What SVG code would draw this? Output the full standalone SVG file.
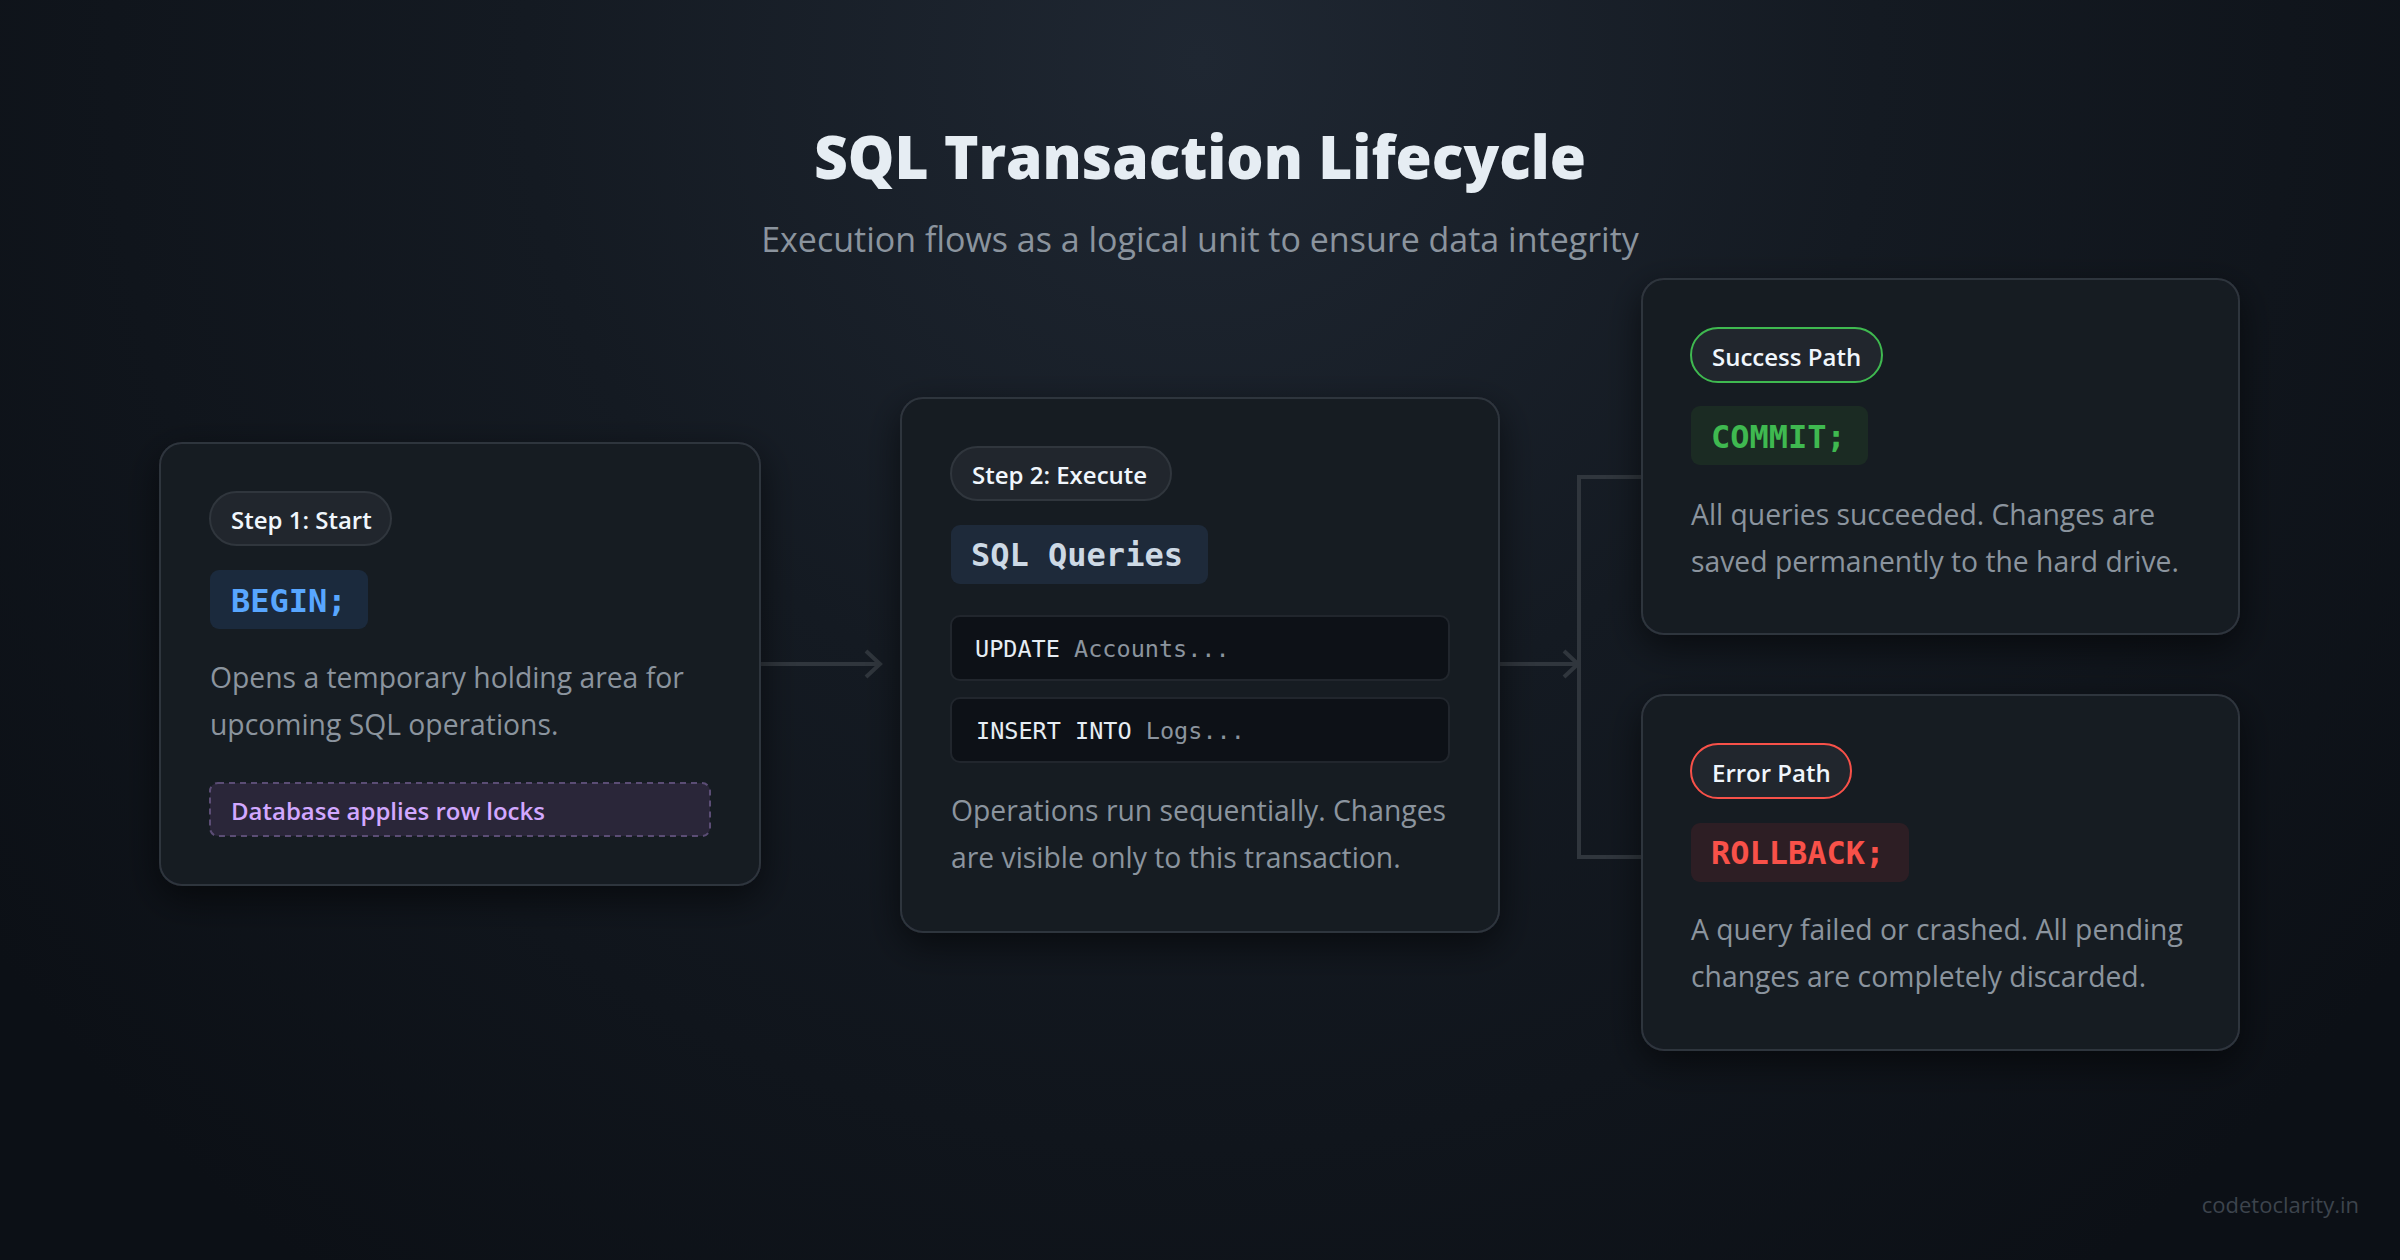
<svg xmlns="http://www.w3.org/2000/svg" width="2400" height="1260" viewBox="0 0 2400 1260">
<defs>
<radialGradient id="bg" cx="1200" cy="60" r="1500" gradientUnits="userSpaceOnUse">
<stop offset="0" stop-color="#1f2732"/>
<stop offset="0.45" stop-color="#141a22"/>
<stop offset="1" stop-color="#0c1016"/>
</radialGradient>
<filter id="sh" x="-20%" y="-20%" width="140%" height="150%">
<feDropShadow dx="0" dy="12" stdDeviation="18" flood-color="#000" flood-opacity="0.55"/>
</filter>
<style>
.card{fill:#171b23;stroke:#2f353d;stroke-width:2}
.badge{fill:#21262d;stroke:#30363d;stroke-width:2}
.btxt{font-family:"Open Sans","Noto Sans",sans-serif;font-weight:600;font-size:24px;fill:#f0f6fc}
.desc{font-family:"Open Sans","Noto Sans",sans-serif;font-size:28.3px;fill:#8b949e}
.code{font-family:"DejaVu Sans Mono","Liberation Mono",monospace;font-weight:700;font-size:32px}
.q{font-family:"DejaVu Sans Mono","Liberation Mono",monospace;font-size:23.5px}
.qbox{fill:#0d1117;stroke:#21262d;stroke-width:2}
.conn{fill:none;stroke:#30363d;stroke-width:4;stroke-linejoin:miter}
</style>
</defs>
<rect width="2400" height="1260" fill="url(#bg)"/>
<g id="title">
<text x="1200" y="179" text-anchor="middle" font-family="'Open Sans','Noto Sans',sans-serif" font-weight="800" font-size="61" fill="#e6edf3" textLength="772" lengthAdjust="spacingAndGlyphs">SQL Transaction Lifecycle</text>
<text x="1200" y="252" text-anchor="middle" font-family="'Open Sans','Noto Sans',sans-serif" font-size="34" fill="#8b949e">Execution flows as a logical unit to ensure data integrity</text>
</g>
<g id="connectors">
<path class="conn" d="M760,664 H879"/>
<path class="conn" d="M866,651 L880,664 L866,677"/>
<path class="conn" d="M1499,664 H1577"/>
<path class="conn" d="M1564,651 L1578,664 L1564,677"/>
<path class="conn" d="M1642,477 H1579 V857 H1642"/>
</g>
<g id="step1">
<rect class="card" x="160" y="443" width="600" height="442" rx="22" filter="url(#sh)"/>
<rect class="badge" x="210" y="492" width="181" height="53" rx="26.5"/>
<text class="btxt" x="231" y="529">Step 1: Start</text>
<rect x="210" y="570" width="158" height="59" rx="9" fill="#1b2a3d"/>
<text class="code" x="231" y="612" fill="#58a6ff">BEGIN;</text>
<text class="desc" x="210" y="688">Opens a temporary holding area for</text>
<text class="desc" x="210" y="735">upcoming SQL operations.</text>
<rect x="210" y="783" width="500" height="53" rx="8" fill="#2a2639" stroke="#5b4d75" stroke-width="2" stroke-dasharray="6 5"/>
<text class="btxt" x="231" y="820" style="fill:#d2a8ff">Database applies row locks</text>
</g>
<g id="step2">
<rect class="card" x="901" y="398" width="598" height="534" rx="22" filter="url(#sh)"/>
<rect class="badge" x="951" y="447" width="220" height="53" rx="26.5"/>
<text class="btxt" x="972" y="484">Step 2: Execute</text>
<rect x="951" y="525" width="257" height="59" rx="9" fill="#1e2a3a"/>
<text class="code" x="971" y="566" fill="#cdd9e5">SQL Queries</text>
<rect class="qbox" x="951" y="616" width="498" height="64" rx="9"/>
<text class="q" x="975" y="657"><tspan fill="#e6edf3">UPDATE</tspan><tspan fill="#8b949e"> Accounts...</tspan></text>
<rect class="qbox" x="951" y="698" width="498" height="64" rx="9"/>
<text class="q" x="976" y="739"><tspan fill="#e6edf3">INSERT INTO</tspan><tspan fill="#8b949e"> Logs...</tspan></text>
<text class="desc" x="951" y="821">Operations run sequentially. Changes</text>
<text class="desc" x="951" y="868">are visible only to this transaction.</text>
</g>
<g id="commit">
<rect class="card" x="1642" y="279" width="597" height="355" rx="22" filter="url(#sh)"/>
<rect class="badge" x="1691" y="328" width="191" height="54" rx="27" style="stroke:#3fb950"/>
<text class="btxt" x="1712" y="366">Success Path</text>
<rect x="1691" y="406" width="177" height="59" rx="9" fill="#1b2b23"/>
<text class="code" x="1711" y="448" fill="#3fb950">COMMIT;</text>
<text class="desc" x="1691" y="525">All queries succeeded. Changes are</text>
<text class="desc" x="1691" y="572">saved permanently to the hard drive.</text>
</g>
<g id="rollback">
<rect class="card" x="1642" y="695" width="597" height="355" rx="22" filter="url(#sh)"/>
<rect class="badge" x="1691" y="744" width="160" height="54" rx="27" style="stroke:#f85149"/>
<text class="btxt" x="1712" y="782">Error Path</text>
<rect x="1691" y="823" width="218" height="59" rx="9" fill="#2d1e24"/>
<text class="code" x="1711" y="864" fill="#f85149">ROLLBACK;</text>
<text class="desc" x="1691" y="940">A query failed or crashed. All pending</text>
<text class="desc" x="1691" y="987">changes are completely discarded.</text>
</g>
<text x="2359" y="1213" text-anchor="end" font-family="'Open Sans','Noto Sans',sans-serif" font-size="22" fill="#3d444d">codetoclarity.in</text>
</svg>
